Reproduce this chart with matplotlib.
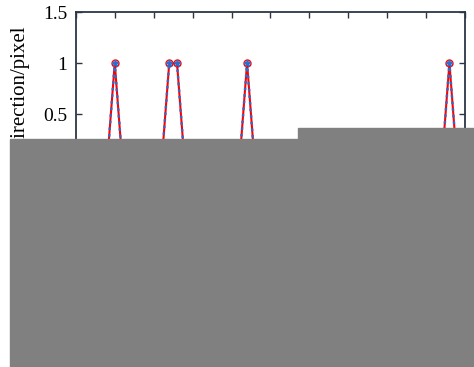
import matplotlib.pyplot as plt
from matplotlib.patches import Rectangle

# sample index (every 2 frames) and the two traces
frames = list(range(0, 101, 2))
peak_frames = [10, 24, 26, 44, 96]
true_shift = [1 if f in peak_frames else 0 for f in frames]
meas_shift = [1 if f in peak_frames else 0 for f in frames]

x_ticks = list(range(0, 101, 10))
y_ticks = [-1.5, -1, -0.5, 0, 0.5, 1, 1.5]
y_tick_labels = ["-1.5", "-1", "-0.5", "0", "0.5", "1", "1.5"]

plt.rcParams['font.family'] = ['Liberation Serif', 'DejaVu Serif']
plt.rcParams['font.size'] = 14

fig = plt.figure(figsize=(4.74, 3.67), dpi=100)
ax = fig.add_axes([0.160, 0.134, 0.821, 0.833])

axis_col = '#2b3645'
ax.plot(frames, true_shift, color='red', linestyle='-', linewidth=1.5,
        marker='o', markersize=5, markerfacecolor='none', label='Ground truth')
ax.plot(frames, meas_shift, color='#2a6fd0', linestyle=':', linewidth=1.8,
        marker='*', markersize=5, label='Measured')

ax.set_xlim(0, 100)
ax.set_ylim(-1.5, 1.5)
ax.set_xticks(x_ticks)
ax.set_yticks(y_ticks)
ax.set_yticklabels(y_tick_labels)
ax.tick_params(direction='in', top=True, right=True, length=4, width=1,
               color=axis_col, pad=6)
for s in ax.spines.values():
    s.set_color(axis_col)
    s.set_linewidth(1.3)
# keep the last x tick label inside the figure
ax.get_xticklabels()[-1].set_ha('right')

ax.set_xlabel("Frame")
ax.set_ylabel("position error in x direction/pixel", fontsize=15)
ax.yaxis.set_label_coords(-0.117, 0.5)
ax.legend(loc='lower center', frameon=True, fontsize=11)

# grey blocks that cover most of the reference image
grey = '#808080'
fig.add_artist(Rectangle((10 / 474, 0), 1 - 10 / 474, 228 / 367,
                         transform=fig.transFigure, color=grey, zorder=10))
fig.add_artist(Rectangle((298 / 474, 228 / 367), 1 - 298 / 474, 11 / 367,
                         transform=fig.transFigure, color=grey, zorder=10))

fig.savefig("out.png", dpi=100)
